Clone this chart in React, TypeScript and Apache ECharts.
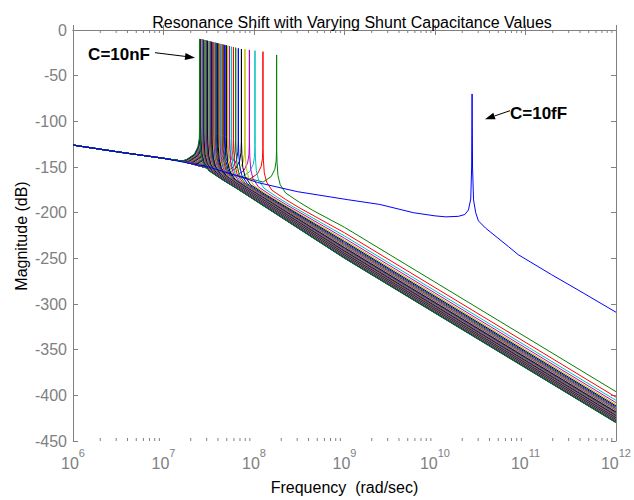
import React, { useEffect, useRef } from "react";
import * as echarts from "echarts";

// ---------- axis ticks ----------
const DECADES = [6, 7, 8, 9, 10, 11, 12];
const MINOR_MULTS = [2, 3, 4, 5, 6, 7, 8, 9];
const Y_MIN = -450;
const Y_MAX = 0;
const Y_STEP = 50;

// ---------- C = 10 fF curve, [log10(freq rad/s), dB] ----------
const CURVE_10FF: number[][] = [
  [6, -126], [6.5, -133.5], [7, -140.5], [7.5, -150], [7.86, -161], [8.04, -167],
  [8.48, -177], [9.03, -185.7], [9.39, -191], [9.76, -200], [10.0, -203.5],
  [10.12, -204.6], [10.26, -204], [10.33, -202], [10.37, -197], [10.395, -185],
  [10.405, -150], [10.41, -70], [10.415, -150], [10.426, -186], [10.45, -200],
  [10.48, -209], [10.56, -217], [10.81, -237], [10.92, -246], [11.29, -268],
  [11.57, -284], [12, -309],
];

// ---------- bundle: C = 200 pF ... 10 nF ----------
const LOW_PREFIX: number[][] = [[6, -126], [6.5, -133.5], [7, -140.5], [7.2, -143.5]];
const RES_LOG10 = [
  8.250, 8.099, 8.011, 7.949, 7.900, 7.861, 7.827, 7.798, 7.773, 7.750,
  7.729, 7.710, 7.693, 7.677, 7.662, 7.648, 7.635, 7.622, 7.611, 7.600,
  7.589, 7.579, 7.569, 7.560, 7.551, 7.543, 7.534, 7.526, 7.519, 7.511,
  7.504, 7.497, 7.491, 7.484, 7.478, 7.472, 7.466, 7.460, 7.454, 7.449,
  7.444, 7.438, 7.433, 7.428, 7.423, 7.419, 7.414, 7.409, 7.405, 7.400,
];
const PEAK_DB = [
  -27.3, -23.7, -22.6, -21.8, -21.1, -20.8, -20.1, -19.4, -18.8, -18.2,
  -17.7, -17.1, -16.7, -16.3, -16.0, -15.6, -15.3, -15.0, -14.8, -14.5,
  -14.2, -14.0, -13.8, -13.6, -13.4, -13.2, -13.0, -12.8, -12.6, -12.5,
  -12.3, -12.1, -12.0, -11.8, -11.7, -11.5, -11.4, -11.2, -11.1, -11.0,
  -10.8, -10.7, -10.6, -10.5, -10.4, -10.2, -10.1, -10.0, -9.9, -9.8,
];
const FOOT_DB = [
  -171.5, -168.5, -166.3, -164.8, -163.5, -162.3, -161.4, -160.4, -159.6, -158.8,
  -158.0, -157.4, -156.8, -156.2, -155.7, -155.2, -154.7, -154.3, -153.9, -153.5,
  -153.1, -152.8, -152.4, -152.1, -151.8, -151.5, -151.2, -150.9, -150.7, -150.4,
  -150.1, -149.9, -149.7, -149.5, -149.3, -149.2, -149.0, -148.8, -148.6, -148.5,
  -148.3, -148.1, -148.0, -147.8, -147.7, -147.6, -147.4, -147.3, -147.1, -147.0,
];
const DB_AT_1E9 = [
  -216.0, -222.0, -225.5, -228.0, -230.0, -231.6, -232.9, -234.1, -235.1, -236.0,
  -236.8, -237.6, -238.3, -238.9, -239.5, -240.1, -240.6, -241.1, -241.6, -242.0,
  -242.4, -242.8, -243.2, -243.6, -244.0, -244.3, -244.6, -244.9, -245.2, -245.5,
  -245.8, -246.1, -246.4, -246.6, -246.9, -247.1, -247.4, -247.6, -247.8, -248.0,
  -248.3, -248.5, -248.7, -248.9, -249.1, -249.3, -249.4, -249.6, -249.8, -250.0,
];
const DB_AT_1E12 = [
  -396.0, -402.0, -405.5, -408.0, -410.0, -411.6, -412.9, -414.1, -415.1, -416.0,
  -416.8, -417.6, -418.3, -418.9, -419.5, -420.1, -420.6, -421.1, -421.6, -422.0,
  -422.4, -422.8, -423.2, -423.6, -424.0, -424.3, -424.6, -424.9, -425.2, -425.5,
  -425.8, -426.1, -426.4, -426.6, -426.9, -427.1, -427.4, -427.6, -427.8, -428.0,
  -428.3, -428.5, -428.7, -428.9, -429.1, -429.3, -429.4, -429.6, -429.8, -430.0,
];
const PRE_SKIRT: number[][] = [[-0.15, 5], [-0.06, 11], [-0.02, 19], [-0.005, 28], [-0.001, 40]];
const POST_SKIRT: number[][] = [[0.001, 40], [0.005, 26], [0.015, 12], [0.04, 2], [0.1, -7], [0.25, -17], [0.4, -26]];

const COLORS = ["#0000FF", "#008000", "#FF0000", "#00BFBF", "#BF00BF", "#BFBF00", "#000000"];
const FONT = "Liberation Sans, Arial, Helvetica, sans-serif";
const AXIS_GRAY = "#808080";

const pt = (lx: number, db: number) => [Math.pow(10, lx), db];

export default function App() {
  const ref = useRef<HTMLDivElement>(null);
  useEffect(() => {
    if (!ref.current) return;
    const chart = echarts.init(ref.current, undefined, { renderer: "svg" });

    const series: any[] = [];
    RES_LOG10.forEach((r, i) => {
      const foot = FOOT_DB[i];
      const data = [
        ...LOW_PREFIX.map(([x, y]) => pt(x, y)),
        ...PRE_SKIRT.map(([d, o]) => pt(r + d, foot + o)),
        pt(r, PEAK_DB[i]),
        ...POST_SKIRT.map(([d, o]) => pt(r + d, foot + o)),
        pt(9, DB_AT_1E9[i]),
        pt(12, DB_AT_1E12[i]),
      ];
      series.push({
        type: "line",
        data,
        showSymbol: false,
        symbol: "none",
        lineStyle: { width: 1, color: COLORS[(i + 1) % 7] },
        silent: true,
        z: 2,
      });
    });
    series.push({
      type: "line",
      data: CURVE_10FF.map(([x, y]) => pt(x, y)),
      showSymbol: false,
      symbol: "none",
      lineStyle: { width: 1, color: COLORS[0] },
      silent: true,
      z: 3,
    });

    const minorVals: number[][] = [];
    DECADES.slice(0, -1).forEach((d) => MINOR_MULTS.forEach((m) => minorVals.push([m * Math.pow(10, d), Y_MIN])));
    series.push({
      type: "custom",
      silent: true,
      data: minorVals,
      renderItem: (params: any, api: any) => {
        const v = api.value(0);
        const b = api.coord([v, Y_MIN]);
        const t = api.coord([v, Y_MAX]);
        const st = { stroke: AXIS_GRAY, lineWidth: 1 };
        return {
          type: "group",
          children: [
            { type: "line", shape: { x1: b[0], y1: b[1], x2: b[0], y2: b[1] - 3 }, style: st },
            { type: "line", shape: { x1: t[0], y1: t[1], x2: t[0], y2: t[1] + 3 }, style: st },
          ],
        };
      },
      clip: false,
      z: 5,
    });

    const axisLine = { show: true, lineStyle: { color: AXIS_GRAY, width: 1 } };
    const option: any = {
      animation: false,
      backgroundColor: "#ffffff",
      title: {
        text: "Resonance Shift with Varying Shunt Capacitance Values",
        left: 347,
        textAlign: "center",
        top: 9,
        textStyle: { fontFamily: FONT, fontSize: 16, fontWeight: "normal", color: "#000" },
      },
      grid: { left: 73, top: 30, right: 12, bottom: 58, containLabel: false },
      xAxis: [
        {
          type: "log",
          logBase: 10,
          min: 1e6,
          max: 1e12,
          position: "bottom",
          axisLine,
          axisTick: { show: true, inside: true, length: 5, lineStyle: { color: AXIS_GRAY } },
          splitLine: { show: false },
          axisLabel: {
            margin: 6,
            formatter: (v: number) => `{b|10}{e|${Math.round(Math.log10(v))}}`,
            rich: {
              b: { fontFamily: FONT, fontSize: 16, color: AXIS_GRAY, lineHeight: 24, verticalAlign: "bottom" },
              e: { fontFamily: FONT, fontSize: 11, color: AXIS_GRAY, lineHeight: 12, verticalAlign: "top" },
            },
          },
          name: "Frequency  (rad/sec)",
          nameLocation: "middle",
          nameGap: 38,
          nameTextStyle: { fontFamily: FONT, fontSize: 16, color: "#000" },
        },
        {
          type: "log",
          logBase: 10,
          min: 1e6,
          max: 1e12,
          position: "top",
          axisLine,
          axisTick: { show: true, inside: true, length: 5, lineStyle: { color: AXIS_GRAY } },
          axisLabel: { show: false },
          splitLine: { show: false },
        },
      ],
      yAxis: [
        {
          type: "value",
          min: Y_MIN,
          max: Y_MAX,
          interval: Y_STEP,
          position: "left",
          axisLine,
          axisTick: { show: true, inside: true, length: 5, lineStyle: { color: AXIS_GRAY } },
          splitLine: { show: false },
          axisLabel: { margin: 6, fontFamily: FONT, fontSize: 16, color: AXIS_GRAY },
        },
        {
          type: "value",
          min: Y_MIN,
          max: Y_MAX,
          interval: Y_STEP,
          position: "right",
          axisLine,
          axisTick: { show: true, inside: true, length: 5, lineStyle: { color: AXIS_GRAY } },
          axisLabel: { show: false },
          splitLine: { show: false },
        },
      ],
      series,
      graphic: [
        {
          type: "text",
          x: 21, y: 236,
          rotation: Math.PI / 2,
          style: { text: "Magnitude (dB)", font: `16px ${FONT}`, fill: "#000", align: "center", verticalAlign: "middle" },
        },
        {
          type: "text",
          x: 150, y: 54,
          style: { text: "C=10nF", font: `bold 17px ${FONT}`, fill: "#000", align: "right", verticalAlign: "middle" },
          z: 100,
        },
        { type: "line", shape: { x1: 155, y1: 52.7, x2: 186, y2: 56.5 }, style: { stroke: "#000", lineWidth: 1 }, z: 100 },
        { type: "polygon", shape: { points: [[195, 57.7], [185.5, 53.0], [184.7, 60.0]] }, style: { fill: "#000" }, z: 100 },
        {
          type: "text",
          x: 510, y: 113,
          style: { text: "C=10fF", font: `bold 17px ${FONT}`, fill: "#000", align: "left", verticalAlign: "middle" },
          z: 100,
        },
        { type: "line", shape: { x1: 510, y1: 110.7, x2: 494.5, y2: 116 }, style: { stroke: "#000", lineWidth: 1 }, z: 100 },
        { type: "polygon", shape: { points: [[485, 119.3], [493.3, 112.7], [495.6, 119.3]] }, style: { fill: "#000" }, z: 100 },
      ],
    };
    chart.setOption(option);
    return () => chart.dispose();
  }, []);
  return (
    <div
      ref={ref}
      style={{ position: "absolute", left: 0, top: 0, width: 634, height: 500, background: "#fff" }}
    />
  );
}
